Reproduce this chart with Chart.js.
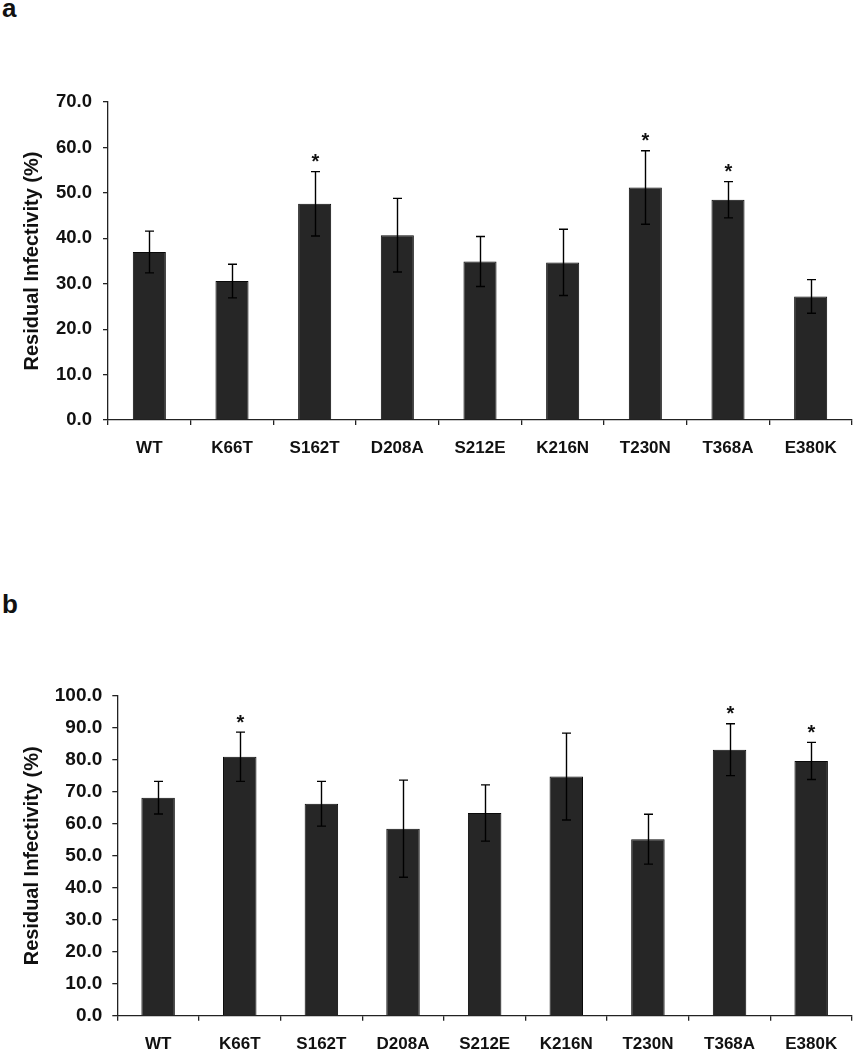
<!DOCTYPE html>
<html>
<head>
<meta charset="utf-8">
<script src="https://cdn.jsdelivr.net/npm/chart.js@4.4.1/dist/chart.umd.min.js"></script>
<style>
  body { margin: 0; background: #fff; width: 854px; height: 1050px; position: relative; overflow: hidden; }
  .panel { position: absolute; left: 2px; font: bold 26px "Liberation Sans", Arial, sans-serif; line-height: 26px; color: #111; }
  .wrap { position: absolute; left: 0; width: 854px; }
</style>
</head>
<body>
<div class="panel" style="top:-5px">a</div>
<div class="panel" style="top:591px">b</div>
<div class="wrap" style="top:80px;height:400px"><canvas id="chartA"></canvas></div>
<div class="wrap" style="top:660px;height:390px"><canvas id="chartB"></canvas></div>
<script>
// mutants on the x axis, same for both panels
var mutants = ["WT", "K66T", "S162T", "D208A", "S212E", "K216N", "T230N", "T368A", "E380K"];

// panel a
var infectA = [37.0, 30.6, 47.6, 40.7, 34.9, 34.7, 51.2, 48.5, 27.2];
var errA = [4.6, 3.7, 7.1, 8.1, 5.5, 7.3, 8.1, 4.0, 3.7];
var sigA = [false, false, true, false, false, false, true, true, false];

// panel b
var infectB = [68.2, 81.0, 66.3, 58.5, 63.4, 74.8, 55.2, 83.2, 79.7];
var errB = [5.1, 7.7, 7.0, 15.2, 8.8, 13.6, 7.8, 8.1, 5.8];
var sigB = [false, true, false, false, false, false, false, true, true];

var FONT = "'Liberation Sans', Arial, sans-serif";
var INK = "#222";

// error bars with caps + asterisk over significant ones
var errorBars = {
    id: "errorBars",
    afterDatasetsDraw: function(chart, args, opts) {
        var ctx = chart.ctx;
        var y = chart.scales.y;
        var bars = chart.getDatasetMeta(0).data;
        var vals = chart.data.datasets[0].data;
        ctx.save();
        ctx.strokeStyle = "#000";
        ctx.lineWidth = 1.4;
        bars.forEach(function(bar, i) {
            var x = Math.round(bar.x) + 0.5;
            var top = y.getPixelForValue(vals[i] + opts.errs[i]);
            var bot = y.getPixelForValue(vals[i] - opts.errs[i]);
            ctx.beginPath();
            ctx.moveTo(x, top); ctx.lineTo(x, bot);
            ctx.moveTo(x - 4.5, top); ctx.lineTo(x + 4.5, top);
            ctx.moveTo(x - 4.5, bot); ctx.lineTo(x + 4.5, bot);
            ctx.stroke();
            if (opts.sig[i]) {
                ctx.fillStyle = "#111";
                ctx.font = "bold 20px " + FONT;
                ctx.textAlign = "center";
                ctx.textBaseline = "alphabetic";
                ctx.fillText("*", x, top - 15 + 11.4);
            }
        });
        ctx.restore();
    }
};

function makeChart(id, values, errs, sig, maxY, axisLeft, padTop, xHeight, tickFont, tickPad, barPct) {
    return new Chart(document.getElementById(id), {
        type: "bar",
        data: {
            labels: mutants,
            datasets: [{
                data: values,
                backgroundColor: "#262626",
                borderColor: "#0a0a0a",
                borderWidth: 1,
                barPercentage: barPct,
                categoryPercentage: 1
            }]
        },
        options: {
            responsive: true,
            maintainAspectRatio: false,
            animation: false,
            layout: { padding: { top: padTop, right: 2, bottom: 0, left: 0 } },
            plugins: {
                legend: { display: false },
                tooltip: { enabled: false },
                errorBars: { errs: errs, sig: sig }
            },
            scales: {
                x: {
                    afterFit: function(s) { s.height = xHeight; },
                    border: { display: true, color: INK, width: 1.3 },
                    grid: { display: true, drawOnChartArea: false, drawTicks: true, tickLength: 5, color: INK, lineWidth: 1.3 },
                    ticks: { color: "#111", padding: 13, font: { family: FONT, size: 17, weight: "bold" } }
                },
                y: {
                    min: 0,
                    max: maxY,
                    afterFit: function(s) { s.width = axisLeft; },
                    border: { display: true, color: INK, width: 1.3 },
                    grid: { display: true, drawOnChartArea: false, drawTicks: true, tickLength: 5, color: INK, lineWidth: 1.3 },
                    ticks: {
                        stepSize: 10,
                        color: "#111",
                        padding: tickPad,
                        font: { family: FONT, size: tickFont, weight: "bold" },
                        callback: function(v) { return v.toFixed(1); }
                    },
                    title: {
                        display: true,
                        text: "Residual Infectivity (%)",
                        color: "#111",
                        padding: { top: 20, bottom: 0 },
                        font: { family: FONT, size: 20, weight: "bold" }
                    }
                }
            }
        },
        plugins: [errorBars]
    });
}

makeChart("chartA", infectA, errA, sigA, 70, 108, 20.7, 60, 18.5, 11, 0.4);
makeChart("chartB", infectB, errB, sigB, 100, 117.3, 36, 34.3, 19, 10, 0.41);
</script>
</body>
</html>
